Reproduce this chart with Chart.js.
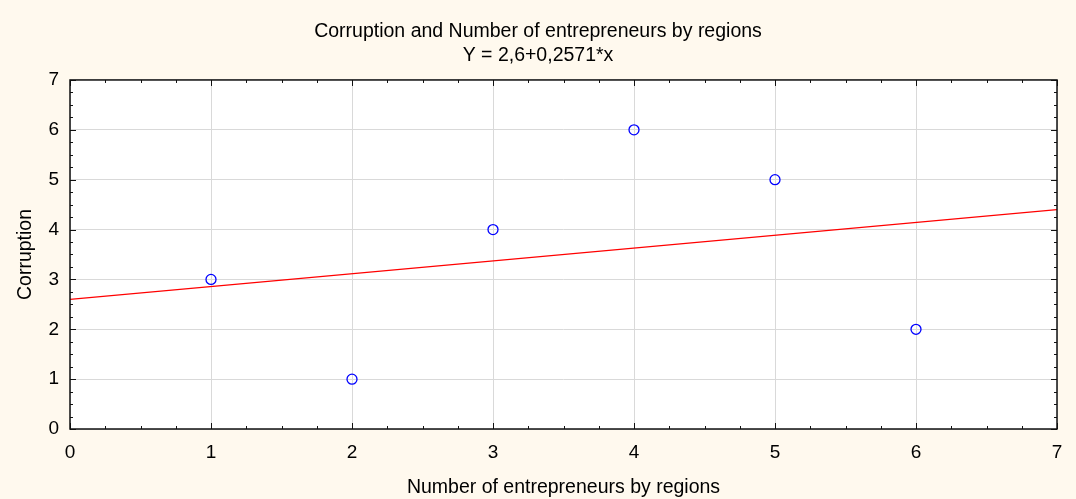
<!DOCTYPE html>
<html lang="en">
<head>
<meta charset="UTF-8">
<title>Corruption and Number of entrepreneurs by regions</title>
<script src="https://cdn.jsdelivr.net/npm/chart.js"></script>
<style>
    html, body {
        margin: 0;
        padding: 0;
        background-color: #fff9ee;
    }
    #wrap {
        width: 1076px;
        height: 499px;
    }
</style>
</head>
<body>
<div id="wrap"><canvas id="scatter"></canvas></div>
<script>
    // data
    const entrepreneurs = [1, 2, 3, 4, 5, 6];
    const corruption = [3, 1, 4, 6, 5, 2];
    // fitted line Y = 2,6 + 0,2571*x, ends at x = 0 and x = 7
    const fitX = [0, 7];
    const fitY = [2.6, 4.4];
    const titleLines = ['Corruption and Number of entrepreneurs by regions', 'Y = 2,6+0,2571*x'];

    const fontFamily = 'Arial, "Liberation Sans", sans-serif';

    // frame + inward tick marks like the Statistica plot
    const frameTicks = {
        id: 'frameTicks',
        afterDatasetsDraw(chart) {
            const ctx = chart.ctx;
            const a = chart.chartArea;
            const xs = chart.scales.x, ys = chart.scales.y;
            ctx.save();
            ctx.strokeStyle = '#111';
            ctx.lineWidth = 1;
            for (let i = 0; i <= 28; i++) {
                const v = i / 4;
                const len = i % 4 === 0 ? 6 : 3;
                const px = Math.round(xs.getPixelForValue(v)) + 0.5;
                const py = Math.round(ys.getPixelForValue(v)) + 0.5;
                ctx.beginPath();
                ctx.moveTo(px, a.bottom); ctx.lineTo(px, a.bottom - len);
                ctx.moveTo(px, a.top); ctx.lineTo(px, a.top + len);
                ctx.moveTo(a.left, py); ctx.lineTo(a.left + len, py);
                ctx.moveTo(a.right, py); ctx.lineTo(a.right - len, py);
                ctx.stroke();
            }
            ctx.lineWidth = 1.5;
            ctx.strokeRect(a.left, a.top, a.right - a.left, a.bottom - a.top);
            ctx.restore();
        }
    };

    const plotBg = {
        id: 'plotBg',
        beforeDraw(chart) {
            const a = chart.chartArea;
            chart.ctx.save();
            chart.ctx.fillStyle = '#ffffff';
            chart.ctx.fillRect(a.left, a.top, a.right - a.left, a.bottom - a.top);
            chart.ctx.restore();
        }
    };

    new Chart(document.getElementById('scatter'), {
        type: 'scatter',
        data: {
            datasets: [{
                label: 'Corruption',
                data: entrepreneurs.map((x, i) => ({ x: x, y: corruption[i] })),
                pointRadius: 5,
                pointBorderColor: '#0000ff',
                pointBackgroundColor: 'rgba(0,0,0,0)',
                pointBorderWidth: 1.3,
                order: 1
            }, {
                type: 'line',
                label: 'fit',
                data: fitX.map((x, i) => ({ x: x, y: fitY[i] })),
                borderColor: '#ff0000',
                borderWidth: 1.3,
                pointRadius: 0,
                fill: false,
                order: 2
            }]
        },
        options: {
            responsive: true,
            maintainAspectRatio: false,
            animation: false,
            layout: { padding: 0 },
            plugins: {
                legend: { display: false },
                tooltip: { enabled: false },
                title: {
                    display: true,
                    text: titleLines,
                    color: '#000',
                    font: { family: fontFamily, size: 19.5, weight: 'normal', lineHeight: 1.23 },
                    padding: { top: 20, bottom: 12 }
                }
            },
            scales: {
                x: {
                    type: 'linear',
                    min: 0,
                    max: 7,
                    ticks: {
                        stepSize: 1,
                        color: '#000',
                        padding: 12,
                        font: { family: fontFamily, size: 19 }
                    },
                    grid: { color: '#d9d9d9', drawTicks: false },
                    border: { display: false },
                    title: {
                        display: true,
                        text: 'Number of entrepreneurs by regions',
                        color: '#000',
                        font: { family: fontFamily, size: 19.5 },
                        padding: { top: 0, bottom: 0 }
                    },
                    afterFit(scale) { scale.height = 70; }
                },
                y: {
                    type: 'linear',
                    min: 0,
                    max: 7,
                    ticks: {
                        stepSize: 1,
                        color: '#000',
                        padding: 11,
                        font: { family: fontFamily, size: 19 }
                    },
                    grid: { color: '#d9d9d9', drawTicks: false },
                    border: { display: false },
                    title: {
                        display: true,
                        text: 'Corruption',
                        color: '#000',
                        font: { family: fontFamily, size: 19.5 },
                        padding: { top: 14, bottom: 4 }
                    },
                    afterFit(scale) { scale.width = 70; }
                },
                // empty right axis, only keeps the margin right of the frame
                yRight: {
                    type: 'linear',
                    position: 'right',
                    min: 0,
                    max: 7,
                    ticks: { display: false },
                    grid: { display: false, drawTicks: false },
                    border: { display: false },
                    afterFit(scale) { scale.width = 19; }
                }
            }
        },
        plugins: [plotBg, frameTicks]
    });
</script>
</body>
</html>
